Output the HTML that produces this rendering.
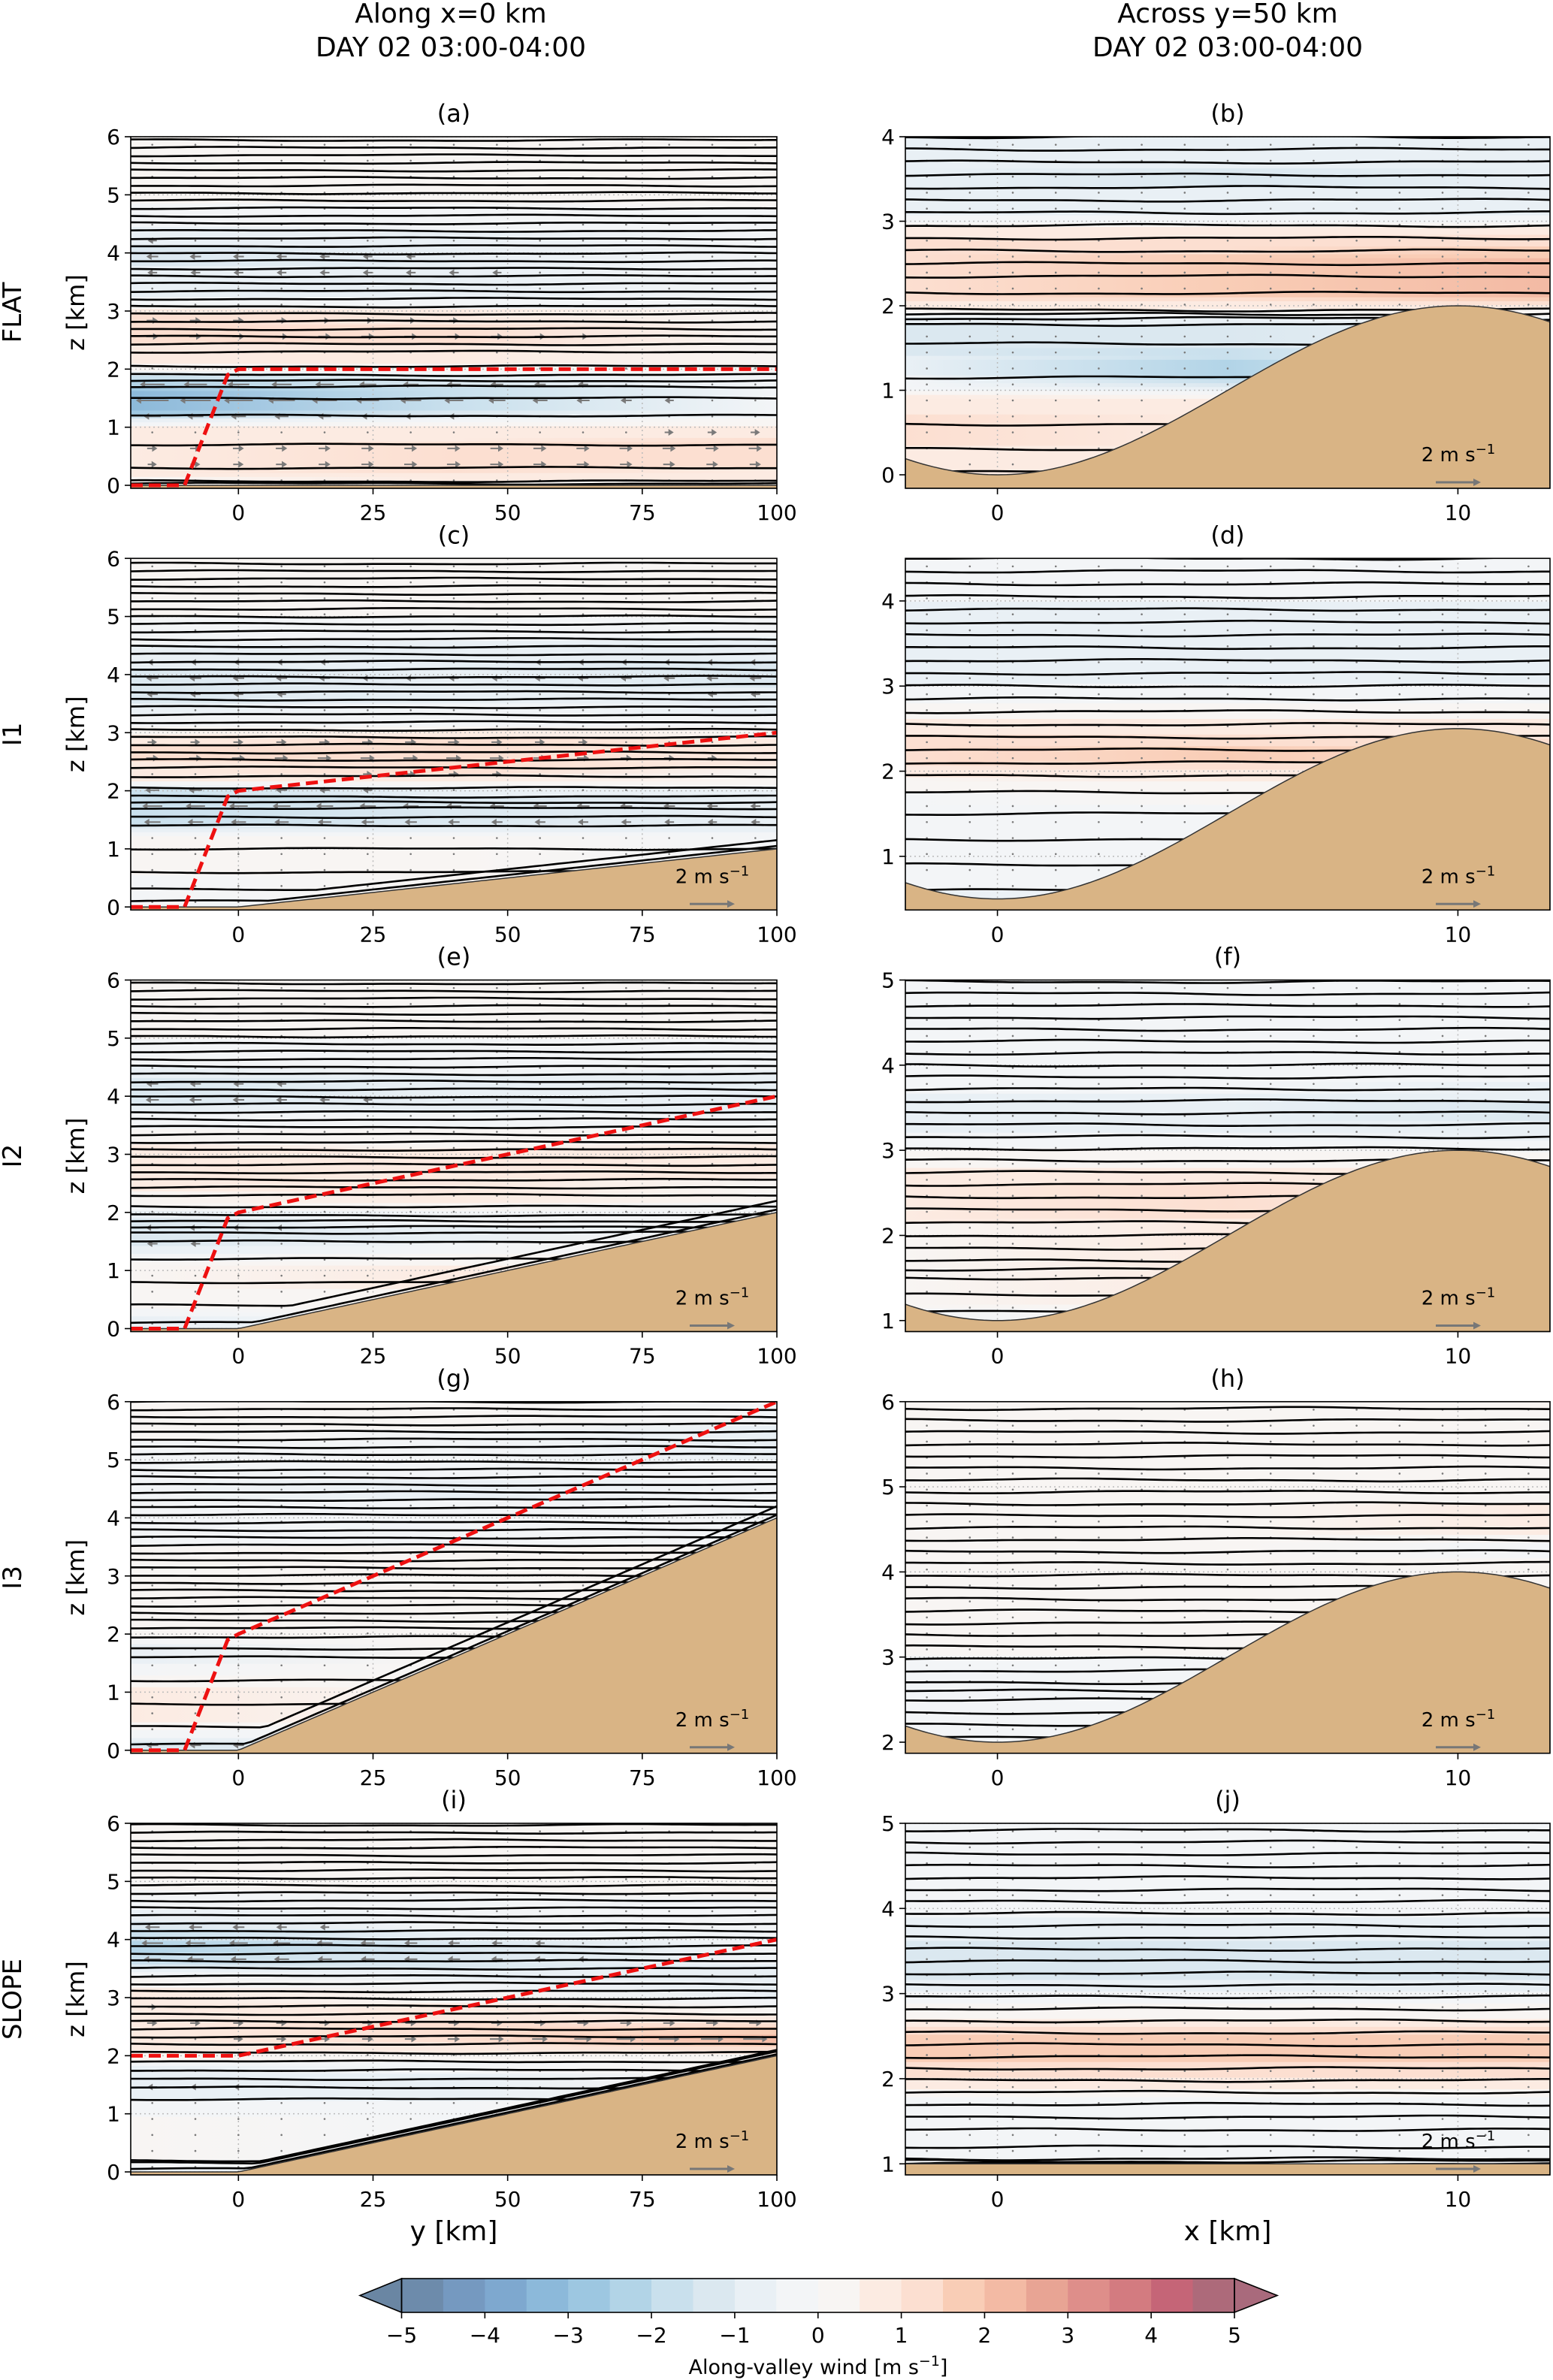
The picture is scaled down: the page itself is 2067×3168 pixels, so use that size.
<!DOCTYPE html>
<html><head><meta charset="utf-8">
<style>
html,body{margin:0;padding:0;background:#fff;}
svg{display:block;font-family:"DejaVu Sans","Liberation Sans",sans-serif;}
</style></head>
<body>
<svg id="fig" width="2067" height="3168" viewBox="0 0 2067 3168" xmlns="http://www.w3.org/2000/svg">
<text x="600" y="30" font-size="36" text-anchor="middle">Along x=0 km</text>
<text x="600" y="75" font-size="36" text-anchor="middle">DAY 02 03:00-04:00</text>
<text x="1634" y="30" font-size="36" text-anchor="middle">Across y=50 km</text>
<text x="1634" y="75" font-size="36" text-anchor="middle">DAY 02 03:00-04:00</text>
<g id="panels"></g>
<text x="604" y="2982" font-size="36" text-anchor="middle">y [km]</text>
<text x="1634" y="2982" font-size="36" text-anchor="middle">x [km]</text>
<g id="cbar"></g>
<text x="1089" y="3160" font-size="27" text-anchor="middle">Along-valley wind [m s<tspan font-size="19" dy="-11">−1</tspan><tspan dy="11">]</tspan></text>
</svg>
<script>
// ---- colormap data ----
const cbarBounds = [-5,-4.5,-4,-3.5,-3,-2.5,-2,-1.5,-1,-0.5,0,0.5,1,1.5,2,2.5,3,3.5,4,4.5,5];
const cbarColors = ["#6d8bab","#7599c0","#7ea8cf","#8cb9da","#9dc7e1","#b2d4e7","#c9e0ed","#dbe8f0","#e9f0f5","#f3f5f7","#f8f5f3","#fcebe2","#fcdfd1","#f9cdb6","#f3baa4","#e8a494","#de8e8a","#d37b80","#c56577","#ad6a7a"];
const cbarTicks = [-5,-4,-3,-2,-1,0,1,2,3,4,5];
const cbarTickLabels = ["−5","−4","−3","−2","−1","0","1","2","3","4","5"];

// ---- panel data ----
const panelLabels = ["(a)","(b)","(c)","(d)","(e)","(f)","(g)","(h)","(i)","(j)"];
const rowNames = ["FLAT","I1","I2","I3","SLOPE"];
const leftSlopes = [0,0.01,0.02,0.04,0.02];
const rightBases = [0,0.5,1,2,null];
const rightZRange = [[-0.16,4.0],[0.37,4.5],[0.87,5.0],[1.87,6.0],[0.87,5.0]];
const leftTicksX = [0,25,50,75,100];
const rightTicksX = [0,10];

const profZ = [
 [0,0.3,0.6,1.0,1.1,1.3,1.6,1.9,2.0,2.3,2.6,3.0,3.1,3.5,4.0,4.6,5.0,5.5,6],
 [-0.2,0.5,0.9,1.0,1.2,1.5,1.8,1.95,2.1,2.5,2.9,3.0,3.2,3.5,4],
 [0,0.3,0.8,1.2,1.4,1.7,2.0,2.2,2.6,2.9,3.2,3.5,4.0,4.5,5,5.5,6],
 [0.4,0.8,1.2,1.6,1.9,2.1,2.3,2.6,2.9,3.2,3.6,4.0,4.5],
 [0,0.5,1.0,1.3,1.6,1.9,2.2,2.6,3.0,3.3,3.7,4.0,4.3,4.6,5,5.5,6],
 [0.87,1.2,1.6,2.0,2.3,2.6,2.9,3.2,3.5,3.8,4.2,4.6,5],
 [0,0.5,1.0,1.5,1.8,2.0,2.5,3,3.5,4,4.5,5,5.5,6],
 [1.87,2.5,3,3.5,4,4.3,4.5,4.8,5.2,5.6,6],
 [0,0.3,0.8,1.2,1.5,1.8,2.0,2.3,2.6,3,3.3,3.6,3.9,4.2,4.5,5,5.5,6],
 [0.87,1.1,1.4,1.7,2.0,2.2,2.5,2.7,3.0,3.2,3.5,3.7,4,4.5,5]
];
const profL = [
 [0.3,0.8,1.0,0.5,-0.5,-3.2,-3.2,-1.5,0.3,0.8,1.2,1.0,-0.3,-0.8,-1.2,-0.3,0.2,0.5,0.3],
 [0.3,1.2,0.8,0,-0.5,-1.2,-1,0.3,1.3,1.5,0.8,-0.3,-0.8,-1,-0.7],
 [-0.3,-0.2,0.2,0.3,-1.5,-2,-1.5,0.5,1.2,0.8,-0.3,-1,-1.2,-0.5,0,0.3,0.3],
 [-1,0,-0.3,-0.3,0.3,1.2,1.3,0.5,-0.3,-0.7,-0.8,-0.5,-0.3],
 [-1,0.3,0.5,-0.5,-1.5,-1,0.3,0.8,0.8,0.2,-0.5,-1.5,-1,-0.3,0,0.2,0.3],
 [-1,0.3,0.5,0.2,0.8,1.0,0.3,-0.5,-0.8,-0.3,-0.2,-0.2,0],
 [-1.5,0.5,0.8,-0.5,-0.8,0.2,0.3,0.2,0,-0.3,-0.5,-0.2,0.1,0.2],
 [0,-0.3,0,0.2,0.3,0,0.2,0.2,0,0.2,0.2],
 [-1,0.3,0.3,-0.5,-1,-0.5,0.3,0.8,1.0,0.8,0.3,-1.5,-2.2,-1.5,-0.5,0.2,0.4,0.3],
 [0,-0.3,-0.5,-0.3,1.0,1.5,1.5,0.5,-0.3,-1.2,-1.5,-0.8,-0.3,-0.2,-0.3]
];
const profM = [
 [0.3,1.3,1.3,0.6,-0.3,-1.8,-1.8,-0.8,0.3,0.8,1.3,0.6,-0.3,-1,-0.8,-0.3,0.2,0.4,0.3],
 [0.3,1.0,0.5,-0.5,-2.5,-1.5,-1,0.3,1.5,1.8,0.8,-0.3,-0.8,-1.1,-0.7],
 [-0.3,0.3,0.5,0.3,-1,-1.5,-0.8,0.8,1.5,1.0,-0.3,-0.5,-1,-0.6,0,0.2,0.3],
 [-0.5,0,-0.3,0,0.5,1.5,1.5,0.5,-0.3,-0.7,-0.8,-0.5,-0.3],
 [-0.5,0.3,0.8,0,-0.8,-0.3,0.5,0.8,0.6,0.2,-0.5,-0.8,-0.6,-0.2,0,0.2,0.3],
 [-0.3,0.5,0.8,0.5,1.2,1.0,0.3,-0.5,-0.8,-0.3,-0.2,-0.1,0],
 [-1,0.2,0.3,0,0,0.2,0.3,0.2,0,-0.3,-0.6,-0.3,0,0.2],
 [0,-0.2,0,0.2,0.3,0,0.3,0.3,0,0.2,0.2],
 [0,-0.3,0,-0.5,-0.8,-0.3,0.5,1.2,1.0,0.3,-0.5,-1.2,-1.2,-0.5,-0.3,0.2,0.3,0.3],
 [0,-0.3,-0.5,-0.3,1.0,1.5,1.5,0.5,-0.3,-1.2,-1.5,-0.8,-0.3,-0.2,-0.3]
];
const profR = [
 [0.3,1.0,1.3,0.8,0.2,-0.3,-0.5,-0.3,0.2,0.5,0.4,0.2,-0.2,-0.5,-0.4,-0.2,0.2,0.3,0.3],
 [0.3,0.8,0.4,-0.3,-1,-1,-0.8,0.5,2,2.2,0.8,-0.3,-0.8,-1,-0.7],
 [-1,-0.5,-0.3,-0.3,-0.8,-1,-0.5,0.3,0.8,0.5,-0.3,-0.8,-1.2,-0.8,0,0.3,0.3],
 [0,0,0,0,0.5,1.0,1.2,0.5,-0.3,-0.7,-0.8,-0.5,-0.3],
 [-0.5,-0.3,0,0,0,-0.3,0,0.5,0.8,0.3,-0.5,-0.8,-0.8,-0.3,0,0.2,0.3],
 [0,0,0,0.3,0.8,0.8,0.3,-0.8,-1.2,-0.5,-0.2,-0.1,0],
 [-0.5,-0.3,0,0,0,0.2,0.2,0.2,0,-0.3,-0.3,-0.5,-0.6,0],
 [0,0,0,0.2,0.3,-0.3,0.8,0.5,0,0.2,0.2],
 [0,0,0,0,0,0,0,2.5,1.0,-0.5,-0.8,-0.5,-0.3,-0.3,-0.2,0.2,0.3,0.3],
 [0,-0.3,-0.5,-0.3,1.0,1.5,1.5,0.5,-0.3,-1.2,-1.5,-0.8,-0.3,-0.2,-0.3]
];
// lower contour levels (km); above the last value levels continue with fixed spacing
const contourLow = [
 [0.03,0.07,0.3,0.7,1.2,1.5,1.7,1.8,1.9,2.05,2.3],
 [0.03,0.3,0.6,1.15,1.55,1.78,1.85,1.9,1.95,2.15,2.35],
 [0.1,0.3,0.6,1.0,1.4,1.55,1.7,1.8,1.9,2.05,2.25,2.4],
 [0.6,0.9,1.2,1.5,1.75,1.95,2.1,2.25,2.4],
 [0.1,0.4,0.8,1.2,1.5,1.65,1.75,1.85,1.95,2.1,2.3],
 [1.1,1.3,1.5,1.6,1.7,1.85,2.0,2.15,2.3,2.45,2.6],
 [0.1,0.4,0.8,1.2,1.6,1.75,1.95,2.1],
 [2.05,2.2,2.35,2.5,2.6,2.7],
 [0.05,0.15,0.2,1.25,1.45,1.6,1.75,1.9,2.05,2.2],
 [1.0,1.03,1.06,1.2,1.4,1.55,1.7]
];
const contourStep = [0.13,0.15,0.13,0.15,0.13,0.14,0.13,0.14,0.13,0.14];
const redLineY = [[-20,-10,-2,0,100],[-20,-10,-2,0,100],[-20,-10,-2,0,100],[-20,-10,-2,0,100],[-20,0,100]];
const redLineZ = [[0,0,1.9,2,2],[0,0,1.9,2,3],[0,0,1.9,2,4],[0,0,1.9,2,6],[2,2,4]];

// ---- helpers ----
const NS="http://www.w3.org/2000/svg";
const panelsG=document.getElementById('panels');
function mk(tag,attrs,parent){const e=document.createElementNS(NS,tag);for(const k in attrs)e.setAttribute(k,attrs[k]);(parent||panelsG).appendChild(e);return e;}
function colorOf(v){if(v<-5)return "#6a86a3";if(v>=5)return "#a96a7c";let i=Math.floor((v+5)/0.5);i=Math.max(0,Math.min(19,i));return cbarColors[i];}
function interp(z,zs,vs){if(z<=zs[0])return vs[0];for(let i=1;i<zs.length;i++){if(z<=zs[i]){const t=(z-zs[i-1])/(zs[i]-zs[i-1]);return vs[i-1]+t*(vs[i]-vs[i-1]);}}return vs[vs.length-1];}
let gid=0;
const defs=mk('defs',{});

function drawPanel(r,side){
  const pi=r*2+side;
  const top=182+r*561.25, h=468, bottom=top+h;
  const X0= side?1205:174, X1= side?2063:1034;
  const d0= side?-2:-20, d1= side?12:100;
  let z0,z1;
  if(side){z0=rightZRange[r][0];z1=rightZRange[r][1];}else{z1=6;z0=-6*4/464;}
  const sx=v=>X0+(v-d0)/(d1-d0)*(X1-X0);
  const sz=v=>bottom-(v-z0)/(z1-z0)*h;
  let terr;
  if(side){const b=rightBases[r];terr= b===null? (x=>1.0) : (x=>b+2*(1-Math.cos(Math.PI*x/10))/2);}
  else{const s=leftSlopes[r];terr=y=>y<0?0:s*y;}
  const g=mk('g',{});
  
  
  const cid='clip'+pi;
  const cp=mk('clipPath',{id:cid},defs);mk('rect',{x:X0,y:top,width:X1-X0,height:h},cp);
  const field=mk('g',{'clip-path':'url(#'+cid+')'},g);
  
  
  const nrows=90;
  for(let k=0;k<nrows;k++){
    const za=z0+(z1-z0)*k/nrows, zb=z0+(z1-z0)*(k+1)/nrows, zm=(za+zb)/2;
    const id='g'+(gid++);
    const lg=mk('linearGradient',{id:id,x1:0,x2:1,y1:0,y2:0},defs);
    [[0,profL],[0.5,profM],[1,profR]].forEach(([o,p])=>{mk('stop',{offset:o,'stop-color':colorOf(interp(zm,profZ[pi],p[pi]))},lg);});
    mk('rect',{x:X0,y:sz(zb)-0.5,width:X1-X0,height:sz(za)-sz(zb)+1,fill:'url(#'+id+')'},field);
  }
  const ticksX= side?rightTicksX:leftTicksX;
  ticksX.forEach(t=>mk('line',{x1:sx(t),x2:sx(t),y1:top,y2:bottom,stroke:'#bbb','stroke-width':1.5,'stroke-dasharray':'2,4'},field));
  for(let t=Math.ceil(z0);t<=z1;t++)mk('line',{x1:X0,x2:X1,y1:sz(t),y2:sz(t),stroke:'#bbb','stroke-width':1.5,'stroke-dasharray':'2,4'},field);
  // quiver arrows
  const qg=mk('g',{fill:'#7a7a7a'},field);
  
  
  const nqx=side?15:15, nqz=side?22:22;
  for(let i=0;i<nqx;i++)for(let j=0;j<nqz;j++){
    const x=d0+(d1-d0)*(i+0.5)/nqx, z=z0+(z1-z0)*(j+0.5)/nqz;
    if(z<terr(x)+0.05)continue;
    const fx=(x-d0)/(d1-d0);
    const vl=interp(z,profZ[pi],profL[pi]),vm=interp(z,profZ[pi],profM[pi]),vr=interp(z,profZ[pi],profR[pi]);
    const v= fx<0.5? vl+(vm-vl)*fx*2 : vm+(vr-vm)*(fx-0.5)*2;
    const L=side?0:Math.abs(v)*14;
    if(L<12){mk('circle',{cx:sx(x),cy:sz(z),r:1.3},qg);continue;}
    const px=sx(x),py=sz(z),dir=v>=0?1:-1;
    mk('path',{d:`M${px-dir*L/2},${py-1} L${px+dir*(L/2-7)},${py-1} L${px+dir*(L/2-7)},${py-4.5} L${px+dir*L/2},${py} L${px+dir*(L/2-7)},${py+4.5} L${px+dir*(L/2-7)},${py+1} L${px-dir*L/2},${py+1}Z`},qg);
  }
  // contours
  const cg=mk('g',{fill:'none',stroke:'#000','stroke-width':2.6},field);
  
  
  const levels=contourLow[pi].slice();
  let lv=levels[levels.length-1]+contourStep[pi];
  while(lv<z1+0.05){levels.push(lv);lv+=contourStep[pi];}
  levels.forEach((L,li)=>{
    let d='';const n=80;
    for(let i=0;i<=n;i++){
      const x=d0+(d1-d0)*i/n;
      const tv=terr(x);
      let z=L+0.012*Math.sin(i*0.09+li*1.7)+0.006*Math.sin(i*0.23+li);
      if(!side && r>0 && L<0.5){ const m=tv+L*0.5; if(z<m) z=m; }
      d+=(i?'L':'M')+sx(x).toFixed(1)+','+sz(z).toFixed(1);
    }
    mk('path',{d:d},cg);
  });
  // terrain
  let td='M'+X0+','+bottom;
  for(let i=0;i<=140;i++){const x=d0+(d1-d0)*i/140;td+='L'+sx(x).toFixed(1)+','+sz(terr(x)).toFixed(1);}
  td+='L'+X1+','+bottom+'Z';
  const tp=mk('path',{d:td,fill:'#d9b485',stroke:'#333','stroke-width':1.5},field);
  
  
  if(!side){
    let rd='';redLineY[r].forEach((y,i)=>{rd+=(i?'L':'M')+sx(y)+','+sz(redLineZ[r][i]);});
    const rl=mk('path',{d:rd,fill:'none',stroke:'#ee1111','stroke-width':5,'stroke-dasharray':'16,8'},field);
    
    
  }
  if(!(r===0&&!side)){
    const kx= side?1941:948, ky=top+422;
    const kt=mk('text',{x:kx,y:ky+10,'font-size':26,'text-anchor':'middle'},g);
    kt.innerHTML='2 m s<tspan font-size="18" dy="-10">−1</tspan>';
    
    
    mk('line',{x1:kx-30,x2:kx+22,y1:ky+38,y2:ky+38,stroke:'#777','stroke-width':3},g);
    mk('path',{d:`M${kx+30},${ky+38} L${kx+20},${ky+33} L${kx+20},${ky+43}Z`,fill:'#777'},g);
  }
  mk('rect',{x:X0,y:top,width:X1-X0,height:h,fill:'none',stroke:'#000','stroke-width':1.6},g);
  ticksX.forEach(t=>{
    mk('line',{x1:sx(t),x2:sx(t),y1:bottom,y2:bottom+8,stroke:'#000','stroke-width':1.6},g);
    const tl=mk('text',{x:sx(t),y:bottom+42,'font-size':28,'text-anchor':'middle'},g);tl.textContent=t;
    
    
  });
  for(let t=Math.ceil(z0);t<=z1+0.001;t++){
    mk('line',{x1:X0-8,x2:X0,y1:sz(t),y2:sz(t),stroke:'#000','stroke-width':1.6},g);
    const tl=mk('text',{x:X0-14,y:sz(t)+10,'font-size':28,'text-anchor':'end'},g);tl.textContent=t;
    
    
  }
  const pl=mk('text',{x:(X0+X1)/2,y:top-20,'font-size':32,'text-anchor':'middle'},g);pl.textContent=panelLabels[pi];
  
  
  if(!side){
    const cy=top+h/2;
    const zl=mk('text',{x:112,y:cy,'font-size':32,'text-anchor':'middle',transform:`rotate(-90 112 ${cy})`},g);zl.textContent='z [km]';
    
    
    const rl=mk('text',{x:28,y:cy,'font-size':34,'text-anchor':'middle',transform:`rotate(-90 28 ${cy})`},g);rl.textContent=rowNames[r];
    
    
  }
}
for(let r=0;r<5;r++){drawPanel(r,0);drawPanel(r,1);}

(function(){
  const cb=document.getElementById('cbar');
  const bx0=534.5,bx1=1643,by0=3033,by1=3078;
  const sc=v=>bx0+(v+5)/10*(bx1-bx0);
  for(let i=0;i<cbarColors.length;i++){
    const rc=mk('rect',{x:sc(cbarBounds[i]),y:by0,width:sc(cbarBounds[i+1])-sc(cbarBounds[i])+0.5,height:by1-by0,fill:cbarColors[i]},cb);
    
    
  }
  mk('path',{d:`M${bx0},${by0} L479,${(by0+by1)/2} L${bx0},${by1}Z`,fill:'#6a86a3',stroke:'#000','stroke-width':1.6},cb);
  mk('path',{d:`M${bx1},${by0} L1700,${(by0+by1)/2} L${bx1},${by1}Z`,fill:'#a96a7c',stroke:'#000','stroke-width':1.6},cb);
  mk('rect',{x:bx0,y:by0,width:bx1-bx0,height:by1-by0,fill:'none',stroke:'#000','stroke-width':1.6},cb);
  cbarTicks.forEach((t,i)=>{
    mk('line',{x1:sc(t),x2:sc(t),y1:by1,y2:by1+8,stroke:'#000','stroke-width':1.6},cb);
    const tl=mk('text',{x:sc(t),y:by1+40,'font-size':28,'text-anchor':'middle'},cb);tl.textContent=cbarTickLabels[i];
    
    
  });
})();
</script>
</body></html>
